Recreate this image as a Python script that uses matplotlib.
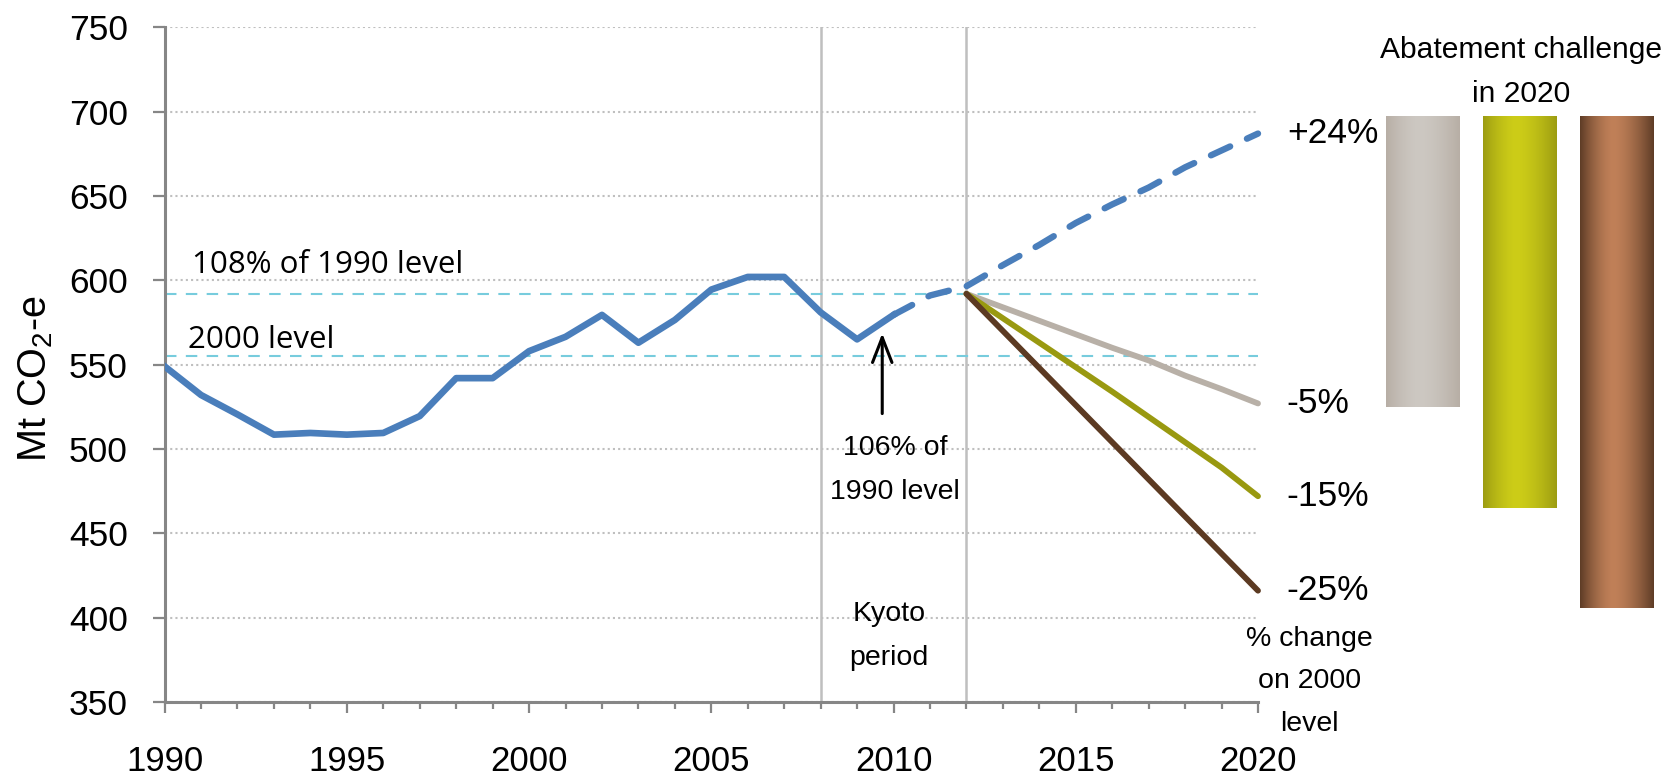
import numpy as np
import matplotlib
matplotlib.use('Agg')
import matplotlib.pyplot as plt
from matplotlib.colors import to_rgb

# historic emissions, Mt CO2-e
years_hist = list(range(1990, 2011))
emissions_hist = [549, 532, 520.5, 508.5, 509.5, 508.5, 509.5, 519.5, 542, 542,
                  558, 566.5, 579.5, 563, 576.5, 594.5, 602, 602, 581, 565, 579.5]

# business as usual projection
years_bau = list(range(2010, 2021))
emissions_bau = [579.5, 591, 596.5, 609, 621, 634, 645, 655, 667, 677, 687]

# target trajectories from 2012
years_target = list(range(2012, 2021))
target_minus5 = [592, 584, 576, 568, 560, 552.5, 543.5, 535.5, 527]
target_minus15 = [592, 577.5, 563, 548.5, 534, 519, 504, 489, 472]
target_minus25 = [592, 570, 548, 526, 504, 482, 460, 438, 416]

level_108 = 592
level_2000 = 555
kyoto_period = [2008, 2012]

end_labels = ['+24%', '-5%', '-15%', '-25%']
challenge_pts = [29, 39, 49]   # percentage points between +24% and each target

plt.rcParams['font.family'] = ['Liberation Sans', 'DejaVu Sans']
plt.rcParams['mathtext.fontset'] = 'custom'
plt.rcParams['mathtext.rm'] = 'Liberation Sans'
plt.rcParams['mathtext.it'] = 'Liberation Sans'

blue = '#4a7ebb'
line_cols = ['#b8b0a7', '#999910', '#5c3a22']
bar_cols = [('#b7aea5', '#cdc8c2'), ('#9c9c12', '#cdcd18'), ('#5e3c26', '#c08058')]
axis_col = '#868686'

W, H = 1670, 779
fig = plt.figure(figsize=(W / 100, H / 100), dpi=100)
ax = fig.add_axes([164.6 / W, 77 / H, (1258 - 164.6) / W, (702 - 27.3) / H])

ax.set_xlim(1990, 2020)
ax.set_ylim(350, 750)
ax.set_yticks(range(350, 751, 50))
ax.set_xticks(range(1990, 2021, 5))
ax.set_xticks(range(1990, 2021), minor=True)
ax.set_axisbelow(True)
ax.grid(axis='y', color='#bfbfbf', linestyle=(0, (1, 1.5)), linewidth=1.5)

for s in ['top', 'right']:
    ax.spines[s].set_visible(False)
for s in ['left', 'bottom']:
    ax.spines[s].set_color(axis_col)
    ax.spines[s].set_linewidth(2.2)

ax.tick_params(axis='y', length=8.6, width=1.6, color=axis_col, pad=18, labelsize=25.5)
ax.tick_params(axis='x', which='major', length=7.7, width=1.6, color=axis_col, pad=23.5, labelsize=25)
ax.tick_params(axis='x', which='minor', length=5, width=1.6, color=axis_col)

ax.set_ylabel('Mt CO$_2$-e', fontsize=28.5)
ax.yaxis.set_label_coords(-0.1176, 0.48)
ax.yaxis.label.set_verticalalignment('center')

# kyoto period borders
for yr in kyoto_period:
    ax.axvline(yr, color='#bfbfbf', lw=1.8, zorder=1.5)

# reference levels
for lev in [level_108, level_2000]:
    ax.axhline(lev, color='#77ccdd', lw=1.5, dashes=(5.5, 4.5), zorder=2)

ax.text(1990.75, 604.2, '108% of 1990 level', fontsize=22.5, family='Open Sans', va='baseline')
ax.text(1990.64, 559.7, '2000 level', fontsize=22.5, family='Open Sans', va='baseline')

# target lines
for vals, col in zip([target_minus5, target_minus15, target_minus25], line_cols):
    ax.plot(years_target, vals, color=col, lw=4.2, solid_capstyle='round', zorder=3, clip_on=False)

ax.plot(years_bau, emissions_bau, color=blue, lw=4.6, dashes=(3.3, 2.9),
        dash_capstyle='round', zorder=4, clip_on=False)
ax.plot(years_hist, emissions_hist, color=blue, lw=4.8, zorder=4)

# end labels
ends = [emissions_bau[-1], target_minus5[-1], target_minus15[-1], target_minus25[-1]]
for lab, v in zip(end_labels, ends):
    ax.text(2020.79, v, lab, fontsize=25.5, ha='left', va='center', clip_on=False)

ax.text(2021.41, 395, '% change\non 2000\nlevel', fontsize=20.5,
        ha='center', va='top', linespacing=1.82, clip_on=False)

# 106% annotation
ax.annotate('', xy=(2009.69, 568.6), xytext=(2009.69, 521),
            arrowprops=dict(arrowstyle='->,head_length=1.8,head_width=0.7', lw=2.2,
                            color='black', shrinkA=0, shrinkB=0))
ax.text(2010.04, 508, '106% of\n1990 level', fontsize=20.5,
        ha='center', va='top', linespacing=1.9)
ax.text(2009.87, 410, 'Kyoto\nperiod', fontsize=20.5,
        ha='center', va='top', linespacing=1.9)

# abatement bars
ax2 = fig.add_axes([1375 / W, (H - 618.5) / H, 290 / W, 502.5 / H])
bars = ax2.bar(range(3), [-v for v in challenge_pts], width=0.765,
               color=[c[0] for c in bar_cols])
t = np.linspace(0, 1, 200)
d = np.where(t < 0.45, (0.45 - t) / 0.45, (t - 0.45) / 0.55)
shape = 1 - d ** 1.6
for bar, (edge, mid) in zip(bars, bar_cols):
    e = np.array(to_rgb(edge))
    m = np.array(to_rgb(mid))
    img = e + (m - e) * shape[:, None]
    x0, w = bar.get_x(), bar.get_width()
    y0, h = bar.get_y(), bar.get_height()
    im = ax2.imshow(img[None, :, :], extent=(x0, x0 + w, y0 + h, y0), aspect='auto', zorder=2)
    im.set_clip_path(bar)
ax2.set_xlim(-0.5, 2.5)
ax2.set_ylim(-50, 0)
ax2.axis('off')

fig.text(1521 / W, 1 - 36 / H, 'Abatement challenge\nin 2020', fontsize=21.6,
         ha='center', va='top', linespacing=1.75)

fig.savefig('out.png', dpi=100)
